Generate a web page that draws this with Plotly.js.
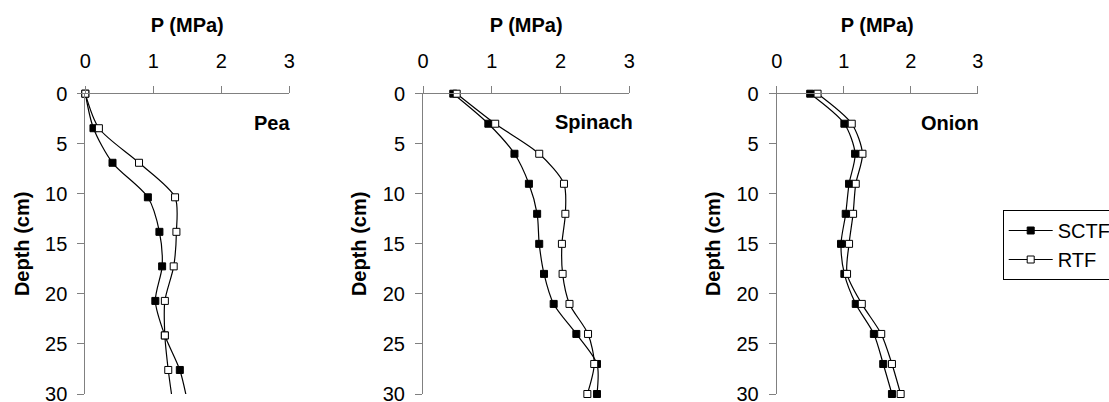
<!DOCTYPE html>
<html>
<head>
<meta charset="utf-8">
<script src="https://cdn.plot.ly/plotly-3.0.1.min.js"></script>
<style>html,body{margin:0;padding:0;background:#fff;}#chart{width:1109px;height:402px;}</style>
</head>
<body>
<div id="chart"></div>
<script>
// ---- data ----
const crops = ["Pea", "Spinach", "Onion"];
const seriesNames = ["SCTF", "RTF"];

const peaDepth = [0, 3.45, 6.9, 10.35, 13.8, 17.25, 20.7, 24.15, 27.6, 31.05];
const peaSCTF  = [0, 0.12, 0.40, 0.92, 1.09, 1.13, 1.03, 1.17, 1.39, 1.51];
const peaRTF   = [0, 0.20, 0.79, 1.32, 1.34, 1.30, 1.17, 1.17, 1.22, 1.29];

const spinachDepth = [0, 3, 6, 9, 12, 15, 18, 21, 24, 27, 30];
const spinachSCTF  = [0.44, 0.95, 1.33, 1.54, 1.66, 1.69, 1.76, 1.90, 2.23, 2.53, 2.53];
const spinachRTF   = [0.49, 1.05, 1.69, 2.05, 2.07, 2.02, 2.03, 2.13, 2.40, 2.49, 2.39];

const onionDepth = [0, 3, 6, 9, 12, 15, 18, 21, 24, 27, 30];
const onionSCTF  = [0.50, 1.01, 1.17, 1.08, 1.03, 0.96, 1.01, 1.18, 1.45, 1.59, 1.72];
const onionRTF   = [0.61, 1.12, 1.28, 1.18, 1.14, 1.08, 1.05, 1.27, 1.56, 1.72, 1.85];

const xTicks = [0, 1, 2, 3];
const yTicks = [0, 5, 10, 15, 20, 25, 30];
const xTitle = "P (MPa)";
const yTitle = "Depth (cm)";

// ---- build ----
const panels = [
  {depth: peaDepth, s: [peaSCTF, peaRTF]},
  {depth: spinachDepth, s: [spinachSCTF, spinachRTF]},
  {depth: onionDepth, s: [onionSCTF, onionRTF]}
];
const fills = ["#000000", "#ffffff"];
const W = 1109, H = 402;
const xDom = [[85.3, 289.3], [423, 629.3], [776.7, 977.7]];
const yDom = [1 - 394 / H, 1 - 93.7 / H];
const labelX = [2.74, 2.49, 2.58];
const labelY = [2.95, 2.8, 2.95];
const font = {family: "Liberation Sans, Arial, sans-serif", size: 20, color: "#000"};

const traces = [];
const layout = {
  width: W, height: H,
  margin: {l: 0, r: 0, t: 0, b: 0, autoexpand: false},
  paper_bgcolor: "#fff", plot_bgcolor: "rgba(0,0,0,0)",
  font: font,
  showlegend: true,
  legend: {x: 1002.7 / W, y: 1 - 210 / H, xanchor: "left", yanchor: "top",
           bordercolor: "#000", borderwidth: 1, bgcolor: "#fff",
           font: font, tracegroupgap: 0, itemwidth: 44},
  annotations: []
};

panels.forEach((p, i) => {
  const xa = i === 0 ? "x" : "x" + (i + 1);
  const ya = i === 0 ? "y" : "y" + (i + 1);
  p.s.forEach((vals, k) => {
    traces.push({
      x: vals, y: p.depth, xaxis: xa, yaxis: ya, mode: "lines",
      line: {color: "#000", width: 1.2, shape: "spline", smoothing: 0.8},
      showlegend: false, hoverinfo: "skip"
    });
    const vx = [], vy = [];
    p.depth.forEach((d, j) => { if (d <= 30) { vx.push(vals[j]); vy.push(d); } });
    traces.push({
      x: vx, y: vy, xaxis: xa, yaxis: ya, mode: "markers", cliponaxis: false,
      marker: {symbol: "square", size: 7, color: fills[k], line: {color: "#000", width: 1}},
      showlegend: false
    });
  });
  const xkey = i === 0 ? "xaxis" : "xaxis" + (i + 1);
  const ykey = i === 0 ? "yaxis" : "yaxis" + (i + 1);
  layout[xkey] = {
    domain: [xDom[i][0] / W, xDom[i][1] / W], anchor: ya, side: "top",
    range: [0, 3], tickvals: xTicks, ticktext: xTicks.map(String),
    ticks: "outside", ticklen: 7, tickcolor: "#808080", tickwidth: 1,
    showline: true, linecolor: "#808080", linewidth: 1,
    showgrid: false, zeroline: false, ticklabelstandoff: 10,
    ticklabeloverflow: "allow",
    tickfont: font,
    title: {text: xTitle, font: Object.assign({}, font, {weight: "bold"}), standoff: 11}
  };
  layout[ykey] = {
    domain: yDom, anchor: xa,
    range: [30, 0], tickvals: yTicks, ticktext: yTicks.map(String),
    ticks: "outside", ticklen: 7, tickcolor: "#808080", tickwidth: 1,
    showline: true, linecolor: "#808080", linewidth: 1,
    showgrid: false, zeroline: false, ticklabelstandoff: 6,
    ticklabeloverflow: "allow",
    tickfont: font,
    title: {text: yTitle, font: Object.assign({}, font, {weight: "bold"}), standoff: 10}
  };
  layout.annotations.push({
    xref: xa, yref: ya, x: labelX[i], y: labelY[i], text: crops[i],
    showarrow: false, xanchor: "center", yanchor: "middle",
    font: Object.assign({}, font, {weight: "bold"})
  });
});

// legend entries
seriesNames.forEach((n, k) => {
  traces.push({
    x: [null], y: [null], mode: "lines+markers", name: n,
    line: {color: "#000", width: 1.2},
    marker: {symbol: "square", size: 7, color: fills[k], line: {color: "#000", width: 1}},
    showlegend: true, hoverinfo: "skip"
  });
});

Plotly.newPlot("chart", traces, layout, {staticPlot: true, displayModeBar: false});
</script>
</body>
</html>
